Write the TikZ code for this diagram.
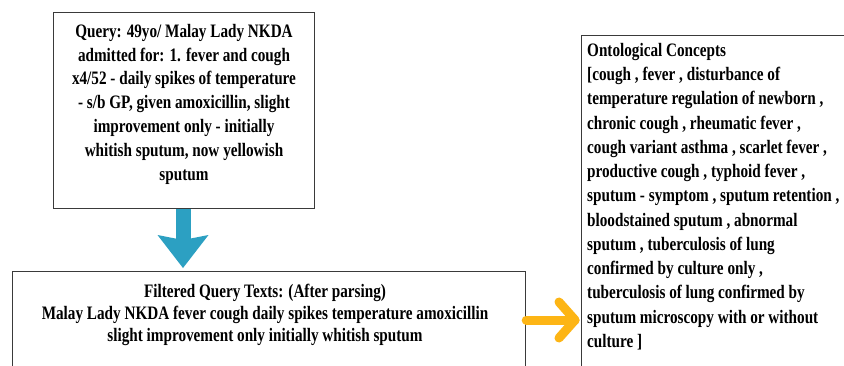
\documentclass[tikz,border=0pt]{standalone}
\usepackage{fontspec}
\setmainfont{Liberation Serif}[FakeStretch=0.8]
\usetikzlibrary{arrows.meta}
\definecolor{boxline}{HTML}{3A3A3A}
\definecolor{arrblue}{HTML}{2CA0C2}
\definecolor{arrorange}{HTML}{FDB515}
\tikzset{
  box/.style={draw=boxline, line width=1.2pt, fill=white, inner sep=0pt},
  txt/.style={font=\fontsize{19}{23.8}\selectfont\bfseries, inner sep=0pt},
  txtf/.style={font=\fontsize{19}{22}\selectfont\bfseries, inner sep=0pt},
  txtc/.style={font=\fontsize{19}{24.25}\selectfont\bfseries, inner sep=0pt},
  orangearr/.style={draw=arrorange, line width=9pt, line cap=round, line join=round},
}
\begin{document}
\begin{tikzpicture}[x=1pt,y=-1pt]
\useasboundingbox (0,0) rectangle (844,365);
\clip (0,0) rectangle (844,365);
\fill[white] (0,0) rectangle (844,365);
% boxes
\node[box, minimum width=261pt, minimum height=196pt, anchor=north west] (q) at (53,12) {};
\node[box, minimum width=513pt, minimum height=110pt, anchor=north west] (f) at (12,271) {};
\node[box, minimum width=270pt, minimum height=340pt, anchor=north west] (c) at (581,35) {};
% texts
\node[txt, align=center, anchor=north] (qt) at (184,24) {Query: 49yo/ Malay Lady NKDA\\ admitted for: 1. fever and cough\\ x4/52 - daily spikes of temperature\\ - s/b GP, given amoxicillin, slight\\ improvement only - initially\\ whitish sputum, now yellowish\\ sputum};
\node[txtf, align=center, anchor=north] (ft) at (265,284) {Filtered Query Texts: (After parsing)\\ Malay Lady NKDA fever cough daily spikes temperature amoxicillin\\ slight improvement only initially whitish sputum};
\node[txtc, align=left, anchor=north west] (ct) at (587,43) {Ontological Concepts\\ {[}cough , fever , disturbance of\\ temperature regulation of newborn ,\\ chronic cough , rheumatic fever ,\\ cough variant asthma , scarlet fever ,\\ productive cough , typhoid fever ,\\ sputum - symptom , sputum retention ,\\ bloodstained sputum , abnormal\\ sputum , tuberculosis of lung\\ confirmed by culture only ,\\ tuberculosis of lung confirmed by\\ sputum microscopy with or without\\ culture ]};
% arrows
\coordinate (btip) at (183,268);
\draw[arrblue, line width=15pt, -{Stealth[length=33pt, width=51pt, inset=5pt, line width=0pt]}] (q.south -| btip) -- (btip);
\coordinate (otip) at (575,320);
\draw[orangearr] (f.east |- otip) -- (otip);
\draw[orangearr] ([shift={(-16,-18)}]otip) -- (otip) -- ([shift={(-16,18)}]otip);
\end{tikzpicture}
\end{document}
